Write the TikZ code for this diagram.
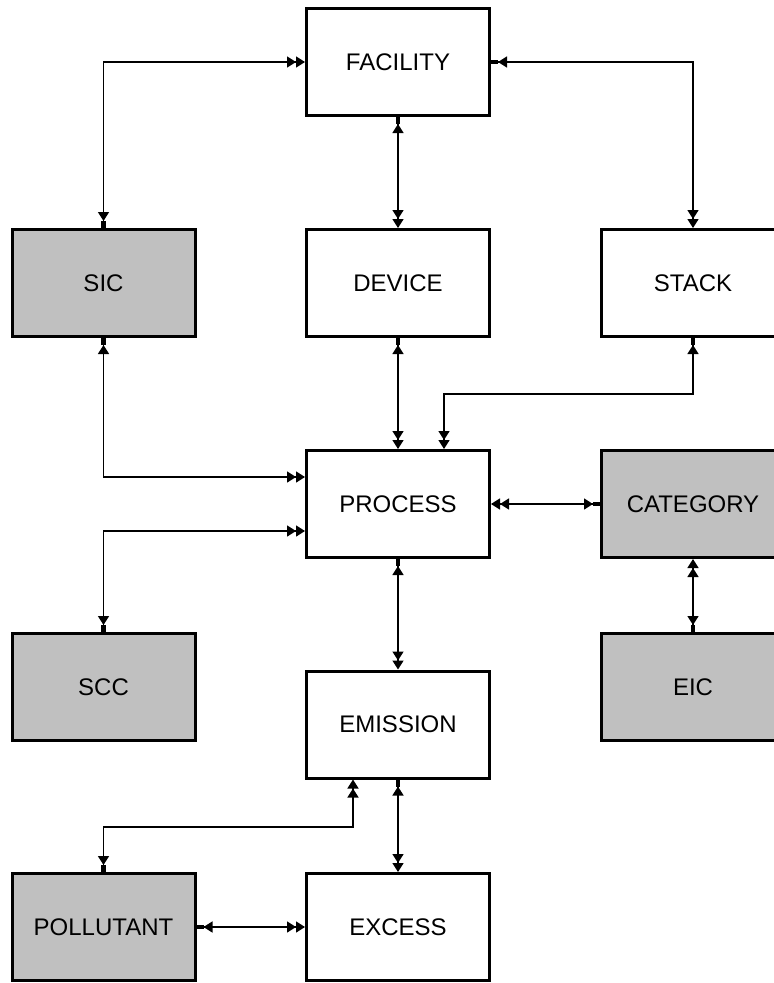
\documentclass[tikz,border=0pt]{standalone}
\usepackage{fontspec}
\setmainfont{Liberation Sans}
\usepackage{tikz}
\usetikzlibrary{arrows.meta,positioning,calc}

\tikzset{
    onetip/.tip = {Triangle[length=9pt,width=11pt] Rectangle[length=7pt,width=4.5pt]},
    manytip/.tip = {Triangle[length=9pt,width=11pt] Triangle[length=9pt,width=11pt]},
    entity/.style = {draw, line width=3pt, fill=white, minimum width=183pt, minimum height=107pt,
        inner sep=0pt, font=\fontsize{24}{28}\selectfont},
    lookup/.style = {entity, fill={rgb,255:red,192;green,192;blue,192}},
    link/.style = {line width=1.5pt, {onetip}-{manytip}}
}

\begin{document}
\begin{tikzpicture}[x=1pt, y=-1pt]
            \useasboundingbox (0,0) rectangle (774,983);
            \clip (0,0) rectangle (774,983);

            % boxes
            \node[entity] (fac) at (398, 62) {FACILITY};
            \node[lookup] (sic) at (103.5, 283) {SIC};
            \node[entity] (dev) at (398, 283) {DEVICE};
            \node[entity] (stk) at (693, 283) {STACK};
            \node[entity] (proc) at (398, 504) {PROCESS};
            \node[lookup] (cat) at (693, 504) {CATEGORY};
            \node[lookup] (scc) at (103.5, 687) {SCC};
            \node[entity] (emi) at (398, 724.5) {EMISSION};
            \node[lookup] (eic) at (693, 687) {EIC};
            \node[lookup] (pol) at (103.5, 927) {POLLUTANT};
            \node[entity] (exc) at (398, 927) {EXCESS};

            % links, drawn from the one end to the many end
            \draw[link] (sic.north) |- (fac.west);
            \draw[link] (fac.south) -- (dev.north);
            \draw[link] (fac.east) -| (stk.north);
            \draw[link] (sic.south) |- ([yshift=27pt]proc.west);
            \draw[link] (scc.north) |- ([yshift=-27pt]proc.west);
            \draw[link] (dev.south) -- (proc.north);
            \draw[link] (stk.south) -- ++(0,56) -| ([xshift=46pt]proc.north);
            \draw[link] (cat.west) -- (proc.east);
            \draw[link] (eic.north) -- (cat.south);
            \draw[link] (proc.south) -- (emi.north);
            \draw[link] (emi.south) -- (exc.north);
            \draw[link] (pol.north) -- ++(0,-45) -| ([xshift=-45pt]emi.south);
            \draw[link] (pol.east) -- (exc.west);

        \end{tikzpicture}
\end{document}
